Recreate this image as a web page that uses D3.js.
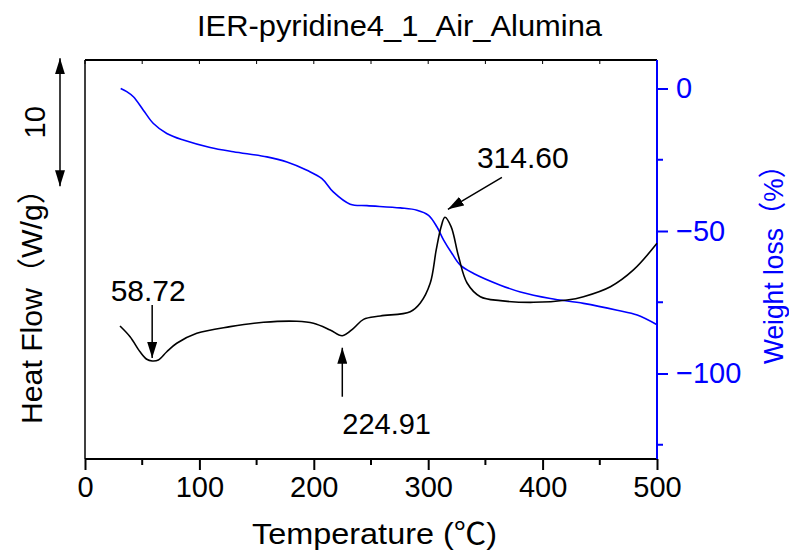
<!DOCTYPE html>
<html>
<head>
<meta charset="utf-8">
<script src="https://cdn.jsdelivr.net/npm/d3@7"></script>
<style>
  html, body { margin: 0; padding: 0; background: #fff; }
  svg { display: block; }
  text { font-family: "Liberation Sans", Arial, "Noto Sans CJK JP", sans-serif; }
</style>
</head>
<body>
<svg id="chart" width="789" height="554"></svg>
<script>
// ---------------- DATA ----------------
const chartTitle = "IER-pyridine4_1_Air_Alumina";
const xLabel = "Temperature (℃)";
const yLeftLabel = "Heat Flow（W/g）";
const yRightLabel = "Weight loss（%）";

const xTicks = [0, 100, 200, 300, 400, 500];
const xMinorTicks = [50, 150, 250, 350, 450];
const rightTicks = [0, -50, -100];
const rightMinorTicks = [-25, -75, -125];

// Heat flow (black) : temperature (°C) and heat flow (W/g, arbitrary offset)
const hfTemp = [30.6, 39.4, 48.1, 54.0, 58.7, 64.1, 71.5, 80.2, 97.7, 126.9, 156.0, 185.2, 199.7, 214.3, 224.9,
  234.7, 243.5, 258.1, 284.3, 293.1, 301.8, 307.0, 311.3, 314.6, 320.0, 326.6, 334.0, 345.6, 363.1, 392.0,
  421.4, 435.7, 459.3, 479.4, 500.0];
const hfValue = [10.39, 9.55, 8.38, 7.79, 7.66, 7.73, 8.38, 9.04, 9.82, 10.34, 10.68, 10.76, 10.60, 10.08, 9.63,
  10.21, 10.91, 11.17, 11.51, 12.19, 13.75, 16.33, 18.15, 18.88, 18.15, 15.80, 13.75, 12.68, 12.37, 12.24,
  12.42, 12.68, 13.46, 14.77, 16.85];

// Weight loss (blue) : temperature (°C) and weight change (%)
const wlTemp = [31.2, 36.5, 42.3, 51.0, 59.8, 71.5, 86.0, 109.4, 129.7, 159.0, 176.5, 194.0, 207.1, 217.0, 231.8, 246.5,
  275.6, 290.2, 300.3, 307.7, 313.5, 320.8, 328.1, 339.7, 363.1, 380.6, 406.8, 435.7, 465.2, 482.7, 500.0];
const wlValue = [0.0, -1.1, -2.9, -7.6, -12.3, -15.8, -18.1, -20.7, -22.2, -24.0, -25.8, -28.7, -31.6, -36.3, -40.6, -41.1,
  -41.9, -42.7, -44.5, -48.6, -53.2, -57.9, -62.0, -64.9, -69.0, -71.4, -73.7, -75.4, -77.8, -79.5, -82.9];

// Peak annotations
const peakLabels = ["58.72", "224.91", "314.60"];
const peakTemps = [58.72, 224.91, 314.60];
const peakValues = [7.66, 9.63, 18.88];

// Scale bar (W/g)
const scaleBarTop = 31.3;
const scaleBarLength = 10;

// ---------------- LAYOUT ----------------
const svg = d3.select("#chart");
const L = 85, R = 657, T = 60, B = 459;

const x = d3.scaleLinear().domain([0, 500]).range([L, R]);
const yHF = d3.scaleLinear().domain([0, 31.17]).range([B, T]);
const yWL = d3.scaleLinear().domain([-130, 10]).range([B, T]);

const black = "#000";
const blue = "#0000ff";

// defs: arrowheads
const defs = svg.append("defs");
defs.append("marker")
  .attr("id", "arr")
  .attr("viewBox", "0 0 16 10")
  .attr("refX", 16).attr("refY", 5)
  .attr("markerWidth", 16).attr("markerHeight", 10)
  .attr("markerUnits", "userSpaceOnUse")
  .attr("orient", "auto-start-reverse")
  .append("path").attr("d", "M0,0 L16,5 L0,10 Z").attr("fill", black);

// Title
svg.append("text")
  .attr("x", (197 + 602) / 2).attr("y", 36)
  .attr("text-anchor", "middle")
  .attr("font-size", 29)
  .attr("textLength", 405).attr("lengthAdjust", "spacingAndGlyphs")
  .text(chartTitle);

// Frame: top and left lines (black)
svg.append("line").attr("x1", L).attr("x2", R).attr("y1", T).attr("y2", T)
  .attr("stroke", black).attr("stroke-width", 2);
svg.append("line").attr("x1", L).attr("x2", L).attr("y1", T).attr("y2", B)
  .attr("stroke", black).attr("stroke-width", 1.5);

// Top ticks (inward)
svg.append("g").selectAll("line")
  .data(xTicks.concat(xMinorTicks))
  .join("line")
  .attr("x1", d => x(d)).attr("x2", d => x(d))
  .attr("y1", T).attr("y2", T + 4)
  .attr("stroke", black).attr("stroke-width", 1);

// Bottom axis
const xAxis = d3.axisBottom(x).tickValues(xTicks).tickSize(11).tickPadding(6).tickFormat(d3.format("d"));
const gx = svg.append("g").attr("transform", `translate(0,${B})`).call(xAxis);
gx.select(".domain").attr("stroke-width", 2).attr("d", `M${L},0H${R}`);
gx.selectAll(".tick line").attr("stroke-width", 2);
gx.selectAll(".tick text").attr("font-size", 29).attr("fill", black)
  .attr("font-family", "Liberation Sans, Arial, sans-serif");
svg.append("g").attr("transform", `translate(0,${B})`).selectAll("line")
  .data(xMinorTicks).join("line")
  .attr("x1", d => x(d)).attr("x2", d => x(d)).attr("y1", 0).attr("y2", 6)
  .attr("stroke", black).attr("stroke-width", 2);

// Right axis (blue)
const yAxisR = d3.axisRight(yWL).tickValues(rightTicks).tickSize(11).tickPadding(8)
  .tickFormat(d => d < 0 ? "\u2212" + Math.abs(d) : d);
const gr = svg.append("g").attr("transform", `translate(${R},0)`).call(yAxisR);
gr.select(".domain").attr("stroke", blue).attr("stroke-width", 2).attr("d", `M0,${T}V${B}`);
gr.selectAll(".tick line").attr("stroke", blue).attr("stroke-width", 2);
gr.selectAll(".tick text").attr("fill", blue).attr("font-size", 29)
  .attr("font-family", "Liberation Sans, Arial, sans-serif");
svg.append("g").attr("transform", `translate(${R},0)`).selectAll("line")
  .data(rightMinorTicks).join("line")
  .attr("x1", 0).attr("x2", 6).attr("y1", d => yWL(d)).attr("y2", d => yWL(d))
  .attr("stroke", blue).attr("stroke-width", 2);

// Curves
const hfData = hfTemp.map((t, i) => [t, hfValue[i]]);
const wlData = wlTemp.map((t, i) => [t, wlValue[i]]);

svg.append("path").datum(wlData)
  .attr("fill", "none").attr("stroke", blue).attr("stroke-width", 1.6)
  .attr("d", d3.line().x(d => x(d[0])).y(d => yWL(d[1])).curve(d3.curveCatmullRom.alpha(0.5)));

svg.append("path").datum(hfData)
  .attr("fill", "none").attr("stroke", black).attr("stroke-width", 1.6)
  .attr("d", d3.line().x(d => x(d[0])).y(d => yHF(d[1])).curve(d3.curveCatmullRom.alpha(0.5)));

// Peak annotations
{
  const px = x(peakTemps[0]), py = yHF(peakValues[0]);
  svg.append("line").attr("x1", px).attr("x2", px).attr("y1", py - 56).attr("y2", py - 3)
    .attr("stroke", black).attr("stroke-width", 1.5).attr("marker-end", "url(#arr)");
  svg.append("text").attr("x", px - 4).attr("y", py - 60).attr("text-anchor", "middle")
    .attr("font-size", 30).text(peakLabels[0]);
}
{
  const px = x(peakTemps[1]), py = yHF(peakValues[1]);
  svg.append("line").attr("x1", px).attr("x2", px).attr("y1", py + 61).attr("y2", py + 12)
    .attr("stroke", black).attr("stroke-width", 1.5).attr("marker-end", "url(#arr)");
  svg.append("text").attr("x", px).attr("y", py + 98).attr("text-anchor", "start")
    .attr("font-size", 29).text(peakLabels[1]);
}
{
  const px = x(peakTemps[2]), py = yHF(peakValues[2]);
  svg.append("line").attr("x1", px + 57).attr("x2", px + 3).attr("y1", py - 40).attr("y2", py - 8)
    .attr("stroke", black).attr("stroke-width", 1.5).attr("marker-end", "url(#arr)");
  svg.append("text").attr("x", px + 32).attr("y", py - 49).attr("text-anchor", "start")
    .attr("font-size", 30).text(peakLabels[2]);
}

// Scale bar
{
  const sx = 60;
  svg.append("line").attr("x1", sx).attr("x2", sx)
    .attr("y1", yHF(scaleBarTop)).attr("y2", yHF(scaleBarTop - scaleBarLength))
    .attr("stroke", black).attr("stroke-width", 1.5)
    .attr("marker-start", "url(#arr)").attr("marker-end", "url(#arr)");
  const cy = (yHF(scaleBarTop) + yHF(scaleBarTop - scaleBarLength)) / 2;
  svg.append("text").attr("transform", `translate(45,${cy}) rotate(-90)`)
    .attr("text-anchor", "middle").attr("font-size", 29).text(String(scaleBarLength));
}

// Axis titles
svg.append("text").attr("x", 374.5).attr("y", 544).attr("text-anchor", "middle")
  .attr("font-size", 30).attr("textLength", 245).attr("lengthAdjust", "spacingAndGlyphs")
  .text(xLabel);

svg.append("text").attr("transform", `translate(42,299) rotate(-90)`)
  .attr("text-anchor", "middle").attr("font-size", 29)
  .attr("textLength", 250).attr("lengthAdjust", "spacingAndGlyphs")
  .text(yLeftLabel);

svg.append("text").attr("transform", `translate(783,258) rotate(-90)`)
  .attr("text-anchor", "middle").attr("font-size", 28).attr("fill", blue)
  .attr("textLength", 212).attr("lengthAdjust", "spacingAndGlyphs")
  .text(yRightLabel);
</script>
</body>
</html>
